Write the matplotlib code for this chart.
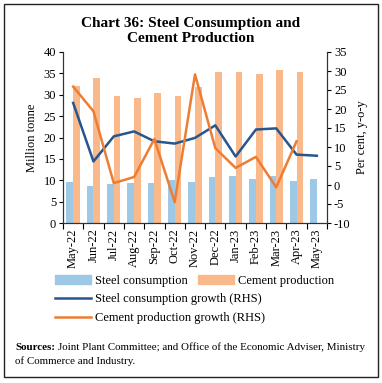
import matplotlib.pyplot as plt
import numpy as np
from matplotlib.patches import Rectangle
from matplotlib.lines import Line2D
from matplotlib.patches import Patch

months = ["May-22", "Jun-22", "Jul-22", "Aug-22", "Sep-22", "Oct-22", "Nov-22",
          "Dec-22", "Jan-23", "Feb-23", "Mar-23", "Apr-23", "May-23"]

steel_consumption = [9.6, 8.7, 9.2, 9.4, 9.4, 10.1, 9.6, 10.8, 11.1, 10.4, 11.1, 9.9, 10.3]
cement_production = [32.0, 33.9, 29.8, 29.2, 30.4, 29.8, 31.8, 35.4, 35.4, 34.8, 35.9, 35.4, np.nan]

steel_growth = [21.6, 6.2, 12.8, 14.1, 11.5, 10.9, 12.4, 15.7, 7.5, 14.6, 14.9, 8.0, 7.7]
cement_growth = [25.9, 19.4, 0.5, 2.1, 12.1, -4.5, 29.1, 9.7, 4.5, 7.4, -0.6, 11.5, np.nan]

C_STEEL_BAR = "#9DC8E6"
C_CEMENT_BAR = "#F9B98B"
C_STEEL_LINE = "#27568F"
C_CEMENT_LINE = "#EE7D33"

plt.rcParams["font.family"] = ["Liberation Serif", "DejaVu Serif"]
plt.rcParams["axes.unicode_minus"] = False

fig = plt.figure(figsize=(3.82, 3.83), dpi=100)
ax = fig.add_axes([63 / 382, 1 - 223 / 383, (327 - 63) / 382, (223 - 52) / 383])
ax2 = ax.twinx()

x = np.arange(len(months))
w = 0.33

ax.bar(x - w / 2, steel_consumption, width=w, color=C_STEEL_BAR, zorder=2)
ax.bar(x + w / 2, cement_production, width=w, color=C_CEMENT_BAR, zorder=2)

ax2.plot(x, steel_growth, color=C_STEEL_LINE, linewidth=1.8, zorder=3)
ax2.plot(x, cement_growth, color=C_CEMENT_LINE, linewidth=1.8, zorder=3)

ax.set_xlim(-0.5, len(months) - 0.5)
ax.set_ylim(0, 40)
ax.set_yticks(range(0, 41, 5))
ax2.set_ylim(-10, 35)
ax2.set_yticks(range(-10, 36, 5))

ax.set_xticks(x)
ax.set_xticklabels(months, rotation=90, fontsize=9)
ax.set_xticks(np.arange(-0.5, len(months), 1), minor=True)
ax.tick_params(axis="x", which="major", length=0, pad=4)
ax.tick_params(axis="x", which="minor", length=4, width=0.8, direction="out")
ax.tick_params(axis="y", labelsize=9, length=3, width=0.8, pad=2)
ax2.tick_params(axis="y", labelsize=9, length=3, width=0.8, pad=2)

ax.set_ylabel("Million tonne", fontsize=9, labelpad=4)
ax2.set_ylabel("Per cent, y-o-y", fontsize=9, labelpad=4)

for a in (ax, ax2):
    a.spines["top"].set_visible(False)
    for s in ("left", "right", "bottom"):
        a.spines[s].set_color("#333333")
        a.spines[s].set_linewidth(0.8)

# legends
bar_handles = [Patch(color=C_STEEL_BAR), Patch(color=C_CEMENT_BAR)]
fig.legend(bar_handles, ["Steel consumption", "Cement production"],
           loc="center left", bbox_to_anchor=(55 / 382, 1 - 281 / 383),
           ncol=2, frameon=False, fontsize=9, handlelength=2.9,
           handleheight=0.7, handletextpad=0.3, columnspacing=0.8,
           borderpad=0, borderaxespad=0)
line_handles = [Line2D([], [], color=C_STEEL_LINE, linewidth=1.8),
                Line2D([], [], color=C_CEMENT_LINE, linewidth=1.8)]
fig.legend(line_handles, ["Steel consumption growth (RHS)", "Cement production growth (RHS)"],
           loc="upper left", bbox_to_anchor=(55 / 382, 1 - 293 / 383),
           ncol=1, frameon=False, fontsize=9, handlelength=2.9,
           handletextpad=0.3, labelspacing=0.55, borderpad=0, borderaxespad=0)

fig.text(0.5, 1 - 31 / 383, "Chart 36: Steel Consumption and\nCement Production",
         ha="center", va="center", fontsize=11, fontweight="bold", linespacing=1.2)

src = fig.text(15 / 382, 1 - 347 / 383, "Sources:", fontsize=7.9, fontweight="bold",
               ha="left", va="center")
fig.canvas.draw()
bb = src.get_window_extent()
fig.text((bb.x1 + 3) / 382, 1 - 347 / 383,
         "Joint Plant Committee; and Office of the Economic Adviser, Ministry",
         fontsize=7.9, ha="left", va="center")
fig.text(15 / 382, 1 - 361 / 383, "of Commerce and Industry.",
         fontsize=7.9, ha="left", va="center")

fig.patches.append(Rectangle((4 / 382, 6 / 383), 374 / 382, 373 / 383,
                             transform=fig.transFigure, fill=False,
                             edgecolor="#222222", linewidth=1))

fig.savefig("out.png", dpi=100)
